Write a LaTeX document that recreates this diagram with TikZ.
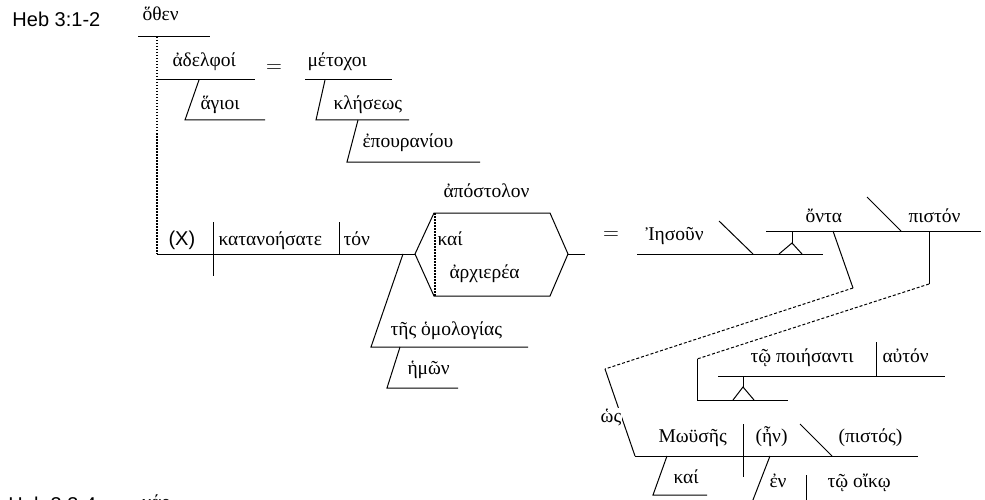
\documentclass[tikz,border=0pt]{standalone}
\usepackage{fontspec}
\newfontfamily\grk{Liberation Serif}
\newfontfamily\lsans{Liberation Sans}
\tikzset{every picture/.style={line width=1pt}}
\tikzset{
  grk/.style={anchor=base west, inner sep=0pt, font=\grk\fontsize{19.5}{22}\selectfont},
  lbl/.style={anchor=base west, inner sep=0pt, font=\lsans\fontsize{20}{22}\selectfont},
  eqsign/.style={anchor=center, inner sep=0pt, font=\fontsize{22}{24}\selectfont},
  dotline/.style={line width=1.5pt, dash pattern=on 1.5pt off 1.5pt},
  dashline/.style={dash pattern=on 3pt off 2pt}
}

\begin{document}
\begin{tikzpicture}[x=1pt,y=1pt,yscale=-1,xscale=1]
\useasboundingbox (0,0) rectangle (985,500);
\clip (0,0) rectangle (985,500);

%Straight Lines: hothen and the vocative
\draw    (138,37) -- (210,37) ;
\draw [dotline]   (157,37) -- (157,254) ;
\draw    (157,80) -- (255,80) ;
\draw    (199,80) -- (185,120) -- (265,120) ;
\draw    (305,80) -- (392,80) ;
\draw    (325,80) -- (316,120) -- (409,120) ;
\draw    (358,120) -- (347,162) -- (480,162) ;

%Straight Lines: main clause
\draw    (157,254) -- (415,254) ;
\draw    (213,222) -- (213,276) ;
\draw    (339,222) -- (339,254) ;
\draw    (403,254) -- (371,347) -- (528,347) ;
\draw    (400,347) -- (387,388) -- (458,388) ;

%Shape: Hexagon
\draw    (415,254) -- (434,213) -- (550,213) -- (568,254) -- (550,296) -- (434,296) -- cycle ;
\draw [dotline]   (435,213) -- (435,296) ;
\draw    (568,254) -- (585,254) ;

%Straight Lines: apposition
\draw    (637,254) -- (823,254) ;
\draw    (719,221) -- (753,254) ;
\draw    (779,254) -- (792,243) -- (802,254) ;
\draw    (792,243) -- (792,231) ;
\draw    (766,231) -- (981,231) ;
\draw    (867,197) -- (901,231) ;
\coordinate (ontafoot) at (853,288);
\coordinate (hosfoot) at (605,369);
\coordinate (pistonfoot) at (929,284);
\coordinate (poifoot) at (697,359);
\draw    (833,231) -- (ontafoot) ;
\draw [dashline]   (ontafoot) -- (hosfoot) ;
\draw    (hosfoot) -- (635,456) ;
\draw    (929,231) -- (pistonfoot) ;
\draw [dashline]   (pistonfoot) -- (poifoot) ;
\draw    (poifoot) -- (697,400) -- (788,400) ;
\draw    (733,400) -- (743,387) -- (754,400) ;
\draw    (743,387) -- (743,376) ;
\draw    (718,376) -- (945,376) ;
\draw    (876,342) -- (876,376) ;

%Straight Lines: hos clause
\draw    (635,456) -- (918,456) ;
\draw    (743,424) -- (743,477) ;
\draw    (800,424) -- (832,456) ;
\draw    (667,456) -- (653,495) -- (707,495) ;
\draw    (770,456) -- (751,505) ;
\draw    (806,475) -- (806,505) ;

% Text Node
\draw (12,27) node [lbl] (ref1) {Heb 3:1-2};
\draw (142,21) node [grk] (othen) {ὅθεν};
\draw (172,67) node [grk] (adelphoi) {ἀδελφοί};
\draw (274,69) node [eqsign] (eqa) {=};
\draw (307,67) node [grk] (metochoi) {μέτοχοι};
\draw (200,110) node [grk] (hagioi) {ἅγιοι};
\draw (333,110) node [grk] (kleseos) {κλήσεως};
\draw (362,148) node [grk] (epouraniou) {ἐπουρανίου};
% Text Node
\draw (168,245) node [lbl] (subj) {(X)};
\draw (218,245) node [grk] (katanoesate) {κατανοήσατε};
\draw (343,245) node [grk] (ton) {τόν};
\draw (443,197) node [grk] (apostolon) {ἀπόστολον};
\draw (437,245) node [grk] (kai) {καί};
\draw (449,278) node [grk] (archierea) {ἀρχιερέα};
\draw (390,335) node [grk] (homologias) {τῆς ὁμολογίας};
\draw (407,374) node [grk] (hemon) {ἡμῶν};
% Text Node
\draw (611,236) node [eqsign] (eqb) {=};
\draw (645,240) node [grk] (iesoun) {Ἰησοῦν};
\draw (805,222) node [grk] (onta) {ὄντα};
\draw (908,222) node [grk] (piston) {πιστόν};
\draw (750,362) node [grk] (poiesanti) {τῷ ποιήσαντι};
\draw (882,362) node [grk] (auton) {αὐτόν};
\draw (611,417) node [grk, anchor=center, fill=white, inner sep=1pt] (hos) {ὡς};
\draw (658,442) node [grk] (mouses) {Μωϋσῆς};
\draw (755,442) node [grk] (en1) {(ἦν)};
\draw (838,442) node [grk] (pistos) {(πιστός)};
\draw (673,483) node [grk] (kaib) {καί};
\draw (769,487) node [grk] (en2) {ἐν};
\draw (827,487) node [grk] (oiko) {τῷ οἴκῳ};
% Text Node
\draw (8,511) node [lbl] (ref2) {Heb 3:3-4};
\draw (142,508) node [grk] (gar) {γάρ};

\end{tikzpicture}
\end{document}
